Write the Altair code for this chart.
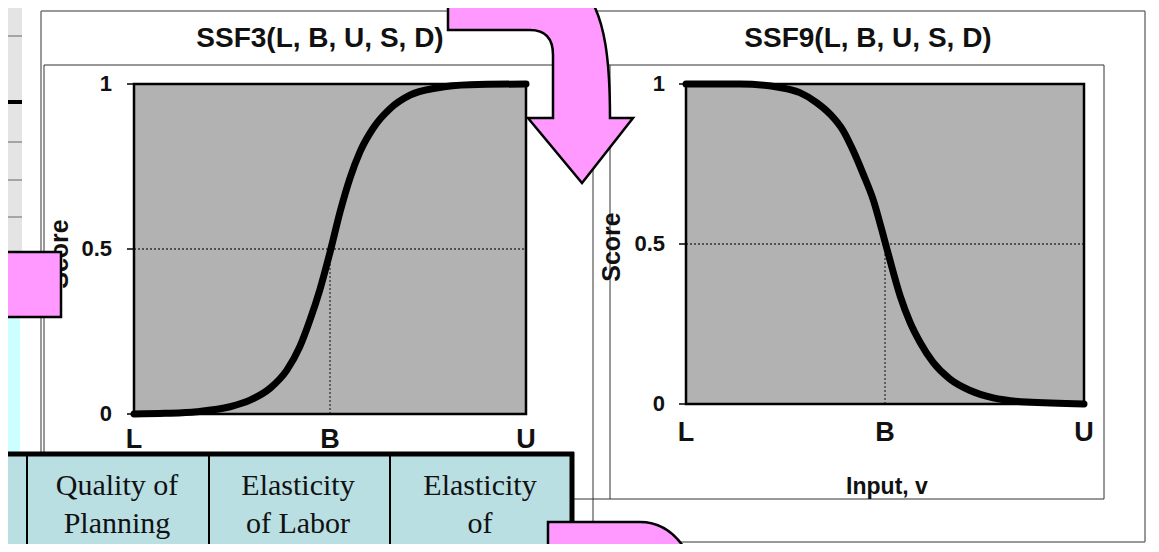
import altair as alt
import pandas as pd

# ---------------- data ----------------
ssf3_v = [0.0, 0.08, 0.16, 0.245, 0.296, 0.347, 0.39, 0.423, 0.449, 0.474, 0.50,
          0.526, 0.551, 0.577, 0.61, 0.653, 0.704, 0.772, 0.857, 1.0]
ssf3_score = [0.0, 0.002, 0.007, 0.022, 0.042, 0.078, 0.133, 0.204, 0.285, 0.376, 0.49,
              0.614, 0.715, 0.796, 0.866, 0.925, 0.966, 0.988, 0.998, 1.0]

ssf9_v = [0.0, 0.136, 0.236, 0.286, 0.328, 0.362, 0.395, 0.42, 0.445, 0.471, 0.492,
          0.508, 0.538, 0.563, 0.588, 0.621, 0.663, 0.714, 0.772, 0.856, 1.0]
ssf9_score = [1.0, 1.0, 0.989, 0.973, 0.942, 0.906, 0.854, 0.792, 0.719, 0.636, 0.544,
              0.47, 0.338, 0.255, 0.193, 0.13, 0.078, 0.042, 0.019, 0.006, 0.0]

y_tick_values = [0, 0.5, 1]
y_tick_labels = ["0", "0.5", "1"]
x_tick_values = [0, 0.5, 1]
x_tick_labels = ["L", "B", "U"]
panel_titles = ["SSF3(L, B, U, S, D)", "SSF9(L, B, U, S, D)"]
y_title = "Score"
x_title = "Input, v"
table_col1 = ["Quality of", "Planning"]
table_col2 = ["Elasticity", "of Labor"]
table_col3 = ["Elasticity", "of"]

W, H = 1143, 536
SANS = "Liberation Sans"
SERIF = "Liberation Serif"
PINK = "#ff99ff"
ONE = alt.Data(values=[{"k": 0}])


def hrule(x1, x2, y, color="#555", w=1.0):
    return alt.Chart(ONE).mark_rule(color=color, strokeWidth=w).encode(
        x=alt.value(x1), x2=alt.value(x2), y=alt.value(y))


def vrule(x, y1, y2, color="#555", w=1.0):
    return alt.Chart(ONE).mark_rule(color=color, strokeWidth=w).encode(
        x=alt.value(x), y=alt.value(y1), y2=alt.value(y2))


def box(x1, y1, x2, y2, fill, stroke=None, sw=0):
    kw = dict(fill=fill)
    if stroke:
        kw.update(stroke=stroke, strokeWidth=sw)
    return alt.Chart(ONE).mark_rect(**kw).encode(
        x=alt.value(x1), x2=alt.value(x2), y=alt.value(y1), y2=alt.value(y2))


def label(text, x, y, size, weight="bold", font=SANS, angle=0, align="center"):
    kw = dict(font=font, fontSize=size, fontWeight=weight, align=align,
              baseline="middle", color="#111")
    if angle:
        kw["angle"] = angle
    return alt.Chart(alt.Data(values=[{"t": text}])).mark_text(**kw).encode(
        x=alt.value(x), y=alt.value(y), text="t:N")


def panel(v, s, xr, yr, ylab_x, xlab_y):
    xs = alt.Scale(domain=[0, 1], range=xr, nice=False, zero=False)
    ys = alt.Scale(domain=[0, 1], range=yr, nice=False, zero=False)
    frame = pd.DataFrame({"x0": [0.0], "x1": [1.0], "y0": [0.0], "y1": [1.0]})
    curve = pd.DataFrame({"v": v, "score": s})
    hl = pd.DataFrame({"x0": [0.0], "x1": [1.0], "y": [0.5]})
    vl = pd.DataFrame({"x": [0.5], "y0": [0.0], "y1": [0.5]})
    yt = pd.DataFrame({"val": y_tick_values, "lab": y_tick_labels})
    xt = pd.DataFrame({"val": x_tick_values, "lab": x_tick_labels})

    X = lambda f: alt.X(f, scale=xs, axis=None)
    Y = lambda f: alt.Y(f, scale=ys, axis=None)

    bg = alt.Chart(frame).mark_rect(color="#b2b2b2").encode(
        x=X("x0:Q"), x2="x1:Q", y=Y("y0:Q"), y2="y1:Q")
    hdot = alt.Chart(hl).mark_rule(color="#333", strokeWidth=1.3, strokeDash=[2, 2]).encode(
        x=X("x0:Q"), x2="x1:Q", y=Y("y:Q"))
    vdot = alt.Chart(vl).mark_rule(color="#333", strokeWidth=1.3, strokeDash=[2, 2]).encode(
        x=X("x:Q"), y=Y("y0:Q"), y2="y1:Q")
    border = alt.Chart(frame).mark_rect(fillOpacity=0, stroke="black", strokeWidth=2.5).encode(
        x=X("x0:Q"), x2="x1:Q", y=Y("y0:Q"), y2="y1:Q")
    line = alt.Chart(curve).mark_line(color="black", strokeWidth=7, interpolate="monotone",
                                      strokeCap="round", strokeJoin="round").encode(
        x=X("v:Q"), y=Y("score:Q"))
    ticks = alt.Chart(yt).mark_rule(color="black", strokeWidth=1.5).encode(
        y=Y("val:Q"), x=alt.value(xr[0] - 7), x2=alt.value(xr[0]))
    ylabels = alt.Chart(yt).mark_text(font=SANS, fontSize=22, fontWeight="bold", align="right",
                                      baseline="middle", color="#111").encode(
        y=Y("val:Q"), x=alt.value(ylab_x), text="lab:N")
    xlabels = alt.Chart(xt).mark_text(font=SANS, fontSize=27, fontWeight="bold", align="center",
                                      baseline="middle", color="#111").encode(
        x=X("val:Q"), y=alt.value(xlab_y), text="lab:N")
    return alt.layer(bg, hdot, vdot, border, line, ticks, ylabels, xlabels)


# ---------------- page frames (scan borders) ----------------
frames = [
    hrule(33, 1137, 3, "#777", 1.5),
    hrule(33, 1137, 534, "#777", 1.5),
    vrule(33, 3, 534, "#777", 1.5),
    vrule(1137, 3, 534, "#777", 1.5),
    vrule(585, -8, 540, "#777", 1.5),
    hrule(36, 1096, 57, "#333", 1.0),
    hrule(36, 1096, 491, "#333", 1.0),
    vrule(36, 57, 491, "#333", 1.0),
    vrule(602, 57, 491, "#333", 1.0),
    vrule(1096, 57, 491, "#333", 1.0),
]

texts = [
    label(panel_titles[0], 312, 31, 28),
    label(panel_titles[1], 860, 31, 28),
    label(y_title, 52, 246, 25, angle=270),
    label(y_title, 604, 239, 25, angle=270),
    label(x_title, 879, 479, 23),
]

p1 = panel(ssf3_v, ssf3_score, [126, 518], [406, 76], 104, 432)
p2 = panel(ssf9_v, ssf9_score, [678, 1076], [396, 76], 657, 425)

# ---------------- overlays from the slide ----------------
overlays = [
    box(-10, 0, 14, 244, "#e4e4e4"),
    hrule(-10, 14, 28, "#666", 1),
    hrule(-10, 14, 94, "black", 4),
    hrule(-10, 14, 134, "#666", 1),
    hrule(-10, 14, 172, "#666", 1),
    hrule(-10, 14, 209, "#666", 1),
    box(-10, 309, 12, 446, "#ccffff"),
    # table
    box(-10, 446, 564, 560, "#b9dfe3"),
    vrule(19, 446, 560, "black", 2),
    vrule(201, 446, 560, "black", 2),
    vrule(382, 446, 560, "black", 2),
    hrule(-10, 566, 446, "black", 5),
    vrule(564, 444, 560, "black", 5),
]
for cx, lines in zip([109, 290, 472], [table_col1, table_col2, table_col3]):
    for i, t in enumerate(lines):
        overlays.append(label(t, cx, 478 + 38 * i, 30, weight="normal", font=SERIF))

overlays.append(box(-10, 244, 53, 309, PINK, "black", 2.5))

arrow_path = ("M440,-13 L440,22 L522,22 Q545,22 545,47 L545,110 L520,110 L574,175 "
              "L625,110 L602,110 C602,52 597,12 580,-13 Z")
bottom_path = "M540,514 L632,514 Q662,514 680,546 L684,560 L540,560 Z"
for pth in [bottom_path, arrow_path]:
    overlays.append(
        alt.Chart(ONE).mark_point(shape=pth, size=4, filled=True, fill=PINK, stroke="black",
                                  strokeWidth=2.5, opacity=1).encode(
            x=alt.value(0), y=alt.value(0)))

chart = alt.layer(*frames, p1, p2, *texts, *overlays).resolve_scale(
    x="independent", y="independent"
).properties(
    width=W, height=H, padding=0,
    autosize=alt.AutoSizeParams(type="none"),
    background="white",
).configure_view(strokeWidth=0)

chart.save("out.html", embed_options={"renderer": "svg", "actions": False})
